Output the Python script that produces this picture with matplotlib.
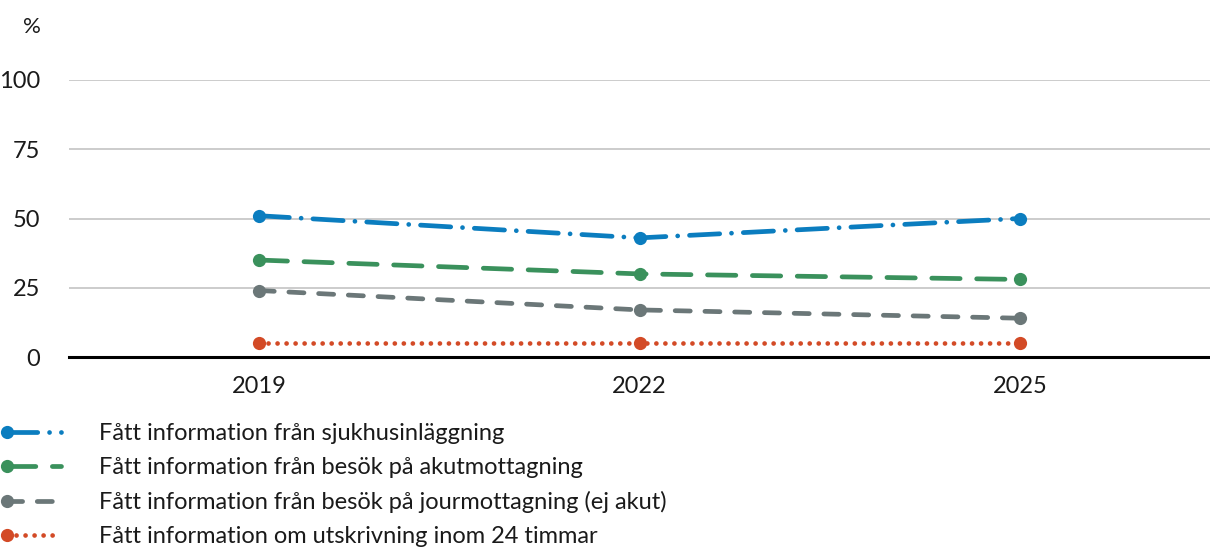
import matplotlib
matplotlib.use("Agg")
import matplotlib.pyplot as plt
from matplotlib.legend_handler import HandlerLine2D
import numpy as np

years = ["2019", "2022", "2025"]
labels = [
    "Fått information från sjukhusinläggning",
    "Fått information från besök på akutmottagning",
    "Fått information från besök på jourmottagning (ej akut)",
    "Fått information om utskrivning inom 24 timmar",
]
sjukhus = [51, 43, 50]
akut = [35, 30, 28]
jour = [24, 17, 14]
utskrivning = [5, 5, 5]
yticks = [0, 25, 50, 75, 100]

colors = ["#0b7dbf", "#3a915c", "#6b7778", "#d34a26"]
dashes = [(6.4, 2.5, 0.01, 2.5), (6, 3.5), (3.2, 3.1), (0.01, 1.9)]
series = [sjukhus, akut, jour, utskrivning]

plt.rcParams['font.family'] = ['Lato', 'DejaVu Sans']
FS = 17

fig = plt.figure(figsize=(12.1, 5.53), dpi=100)
ax = fig.add_axes([69/1210, 1 - 357/553, 1141/1210, (357-80)/553])

x = np.arange(len(years))
handles = []
for vals, c, d, lab in zip(series, colors, dashes, labels):
    ln, = ax.plot(x, vals, color=c, lw=3.4, dashes=d, dash_capstyle='round',
                  marker='o', markersize=9.5, markeredgewidth=0, label=lab)
    handles.append(ln)

ax.set_xlim(-0.5, 2.5)
ax.set_ylim(0, 100)
ax.set_xticks(x)
ax.set_xticklabels(years)
ax.set_yticks(yticks)
ax.tick_params(axis='both', length=0, labelsize=FS, colors='#1a1a1a')
ax.tick_params(axis='y', pad=21)
ax.tick_params(axis='x', pad=14)
for t in yticks[1:]:
    ax.axhline(t, color='#c4c4c4', lw=1.2, zorder=0)
for s in ['top', 'right', 'left']:
    ax.spines[s].set_visible(False)
ax.spines['bottom'].set_linewidth(2.2)
ax.spines['bottom'].set_color('black')
for ln in handles:
    ln.set_clip_on(False)

fig.text(32/1210, 1 - 27/553, "%", fontsize=FS - 1, ha='center', va='center', color='#1a1a1a')


class LeftMarkerHandler(HandlerLine2D):
    def create_artists(self, legend, orig_handle, xdescent, ydescent, width, height, fontsize, trans):
        arts = super().create_artists(legend, orig_handle, xdescent, ydescent, width, height, fontsize, trans)
        for a in arts:
            a.set_markevery([0])
        return arts


leg = fig.legend(handles=handles, loc='upper left', bbox_to_anchor=(0, 1 - 423/553),
                 frameon=False, fontsize=FS, handlelength=2.9, handletextpad=1.3,
                 labelspacing=0.55, borderpad=0, borderaxespad=0, numpoints=2,
                 handler_map={ln: LeftMarkerHandler(marker_pad=0.3) for ln in handles})
for t in leg.get_texts():
    t.set_color('#1a1a1a')

fig.savefig("out.png", dpi=100)
